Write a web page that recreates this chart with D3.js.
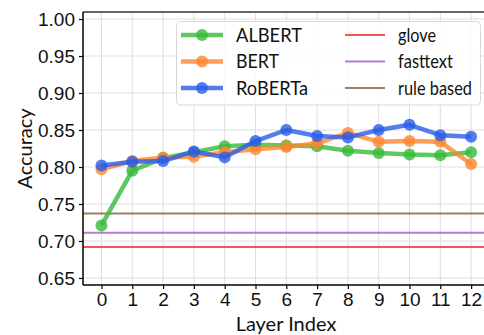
<!DOCTYPE html>
<html>
<head>
<meta charset="utf-8">
<script src="https://cdn.jsdelivr.net/npm/d3@7"></script>
<style>
  html, body { margin: 0; padding: 0; background: #fff; overflow: hidden; }
  svg { display: block; font-family: Lato, "Noto Sans", sans-serif; }
</style>
</head>
<body>
<div id="chart"></div>
<script>
// data
const layers = [0, 1, 2, 3, 4, 5, 6, 7, 8, 9, 10, 11, 12];
const albert = [0.721, 0.795, 0.812, 0.820, 0.828, 0.830, 0.829, 0.828, 0.822, 0.819, 0.817, 0.816, 0.820];
const bert = [0.797, 0.808, 0.813, 0.814, 0.820, 0.824, 0.827, 0.832, 0.846, 0.834, 0.835, 0.834, 0.804];
const roberta = [0.802, 0.807, 0.808, 0.821, 0.813, 0.835, 0.850, 0.842, 0.840, 0.850, 0.857, 0.843, 0.841];
const baselineNames = ['glove', 'fasttext', 'rule based'];
const baselineValues = [0.692, 0.711, 0.737];
const yTicks = [0.65, 0.70, 0.75, 0.80, 0.85, 0.90, 0.95, 1.00];

const seriesColors = { ALBERT: '#38ba38', BERT: '#ff8630', RoBERTa: '#2a5ce8' };
const baselineColors = { glove: '#ee3b3b', fasttext: '#a865c9', 'rule based': '#8a6a48' };

const series = [
  { name: 'ALBERT', values: albert },
  { name: 'BERT', values: bert },
  { name: 'RoBERTa', values: roberta },
];

const W = 484, H = 335;
const plotLeft = 83, plotTop = 12, plotBottom = 285;

const x = d3.scaleLinear().domain([-0.6, 12.6]).range([plotLeft, 489.6]);
const y = d3.scaleLinear().domain([0.6405, 1.0095]).range([plotBottom, plotTop]);

const svg = d3.select('#chart').append('svg')
  .attr('width', W).attr('height', H);

// Gridlines
svg.append('g')
  .selectAll('line')
  .data(layers)
  .join('line')
  .attr('x1', d => x(d)).attr('x2', d => x(d))
  .attr('y1', plotTop).attr('y2', plotBottom)
  .attr('stroke', '#dedede').attr('stroke-width', 1);

svg.append('g')
  .selectAll('line')
  .data(yTicks)
  .join('line')
  .attr('x1', plotLeft).attr('x2', W)
  .attr('y1', d => y(d)).attr('y2', d => y(d))
  .attr('stroke', '#dedede').attr('stroke-width', 1);

// Baselines
svg.append('g')
  .selectAll('line')
  .data(baselineNames.map((n, i) => ({ name: n, value: baselineValues[i] })))
  .join('line')
  .attr('x1', plotLeft).attr('x2', W)
  .attr('y1', d => y(d.value)).attr('y2', d => y(d.value))
  .attr('stroke', d => baselineColors[d.name])
  .attr('stroke-width', 2)
  .attr('opacity', 0.85);

// Model lines + markers
const line = d3.line().x((d, i) => x(layers[i])).y(d => y(d));

series.forEach(s => {
  const g = svg.append('g');
  g.append('path')
    .datum(s.values)
    .attr('d', line)
    .attr('fill', 'none')
    .attr('stroke', seriesColors[s.name])
    .attr('stroke-width', 4.5)
    .attr('stroke-linejoin', 'round')
    .attr('opacity', 0.8);
  g.selectAll('circle')
    .data(s.values)
    .join('circle')
    .attr('cx', (d, i) => x(layers[i]))
    .attr('cy', d => y(d))
    .attr('r', 6)
    .attr('fill', seriesColors[s.name])
    .attr('opacity', 0.8);
});

// Axes
const yAxis = svg.append('g')
  .attr('transform', `translate(${plotLeft},0)`)
  .call(d3.axisLeft(y).tickValues(yTicks).tickFormat(d3.format('.2f')).tickSize(4).tickPadding(4));
yAxis.select('.domain').remove();

const xAxis = svg.append('g')
  .attr('transform', `translate(0,${plotBottom})`)
  .call(d3.axisBottom(x).tickValues(layers).tickFormat(d3.format('d')).tickSize(4).tickPadding(4));
xAxis.select('.domain').remove();

[yAxis, xAxis].forEach(a => {
  a.selectAll('.tick line').attr('stroke', '#000').attr('stroke-width', 1.2);
  a.selectAll('text').attr('fill', '#111').style('font-size', '19px');
});

// Spines
svg.append('line').attr('x1', plotLeft).attr('x2', W).attr('y1', plotTop).attr('y2', plotTop)
  .attr('stroke', '#666').attr('stroke-width', 1.8);
svg.append('line').attr('x1', plotLeft).attr('x2', plotLeft).attr('y1', plotTop).attr('y2', plotBottom)
  .attr('stroke', '#000').attr('stroke-width', 1.5);
svg.append('line').attr('x1', plotLeft).attr('x2', W).attr('y1', plotBottom).attr('y2', plotBottom)
  .attr('stroke', '#000').attr('stroke-width', 1.5);

// Axis labels
svg.append('text')
  .attr('transform', `translate(32,${(plotTop + plotBottom) / 2}) rotate(-90)`)
  .attr('text-anchor', 'middle')
  .style('font-size', '20px').attr('fill', '#111')
  .text('Accuracy');

svg.append('text')
  .attr('x', 286).attr('y', 331)
  .attr('text-anchor', 'middle')
  .style('font-size', '20px').attr('fill', '#111')
  .text('Layer Index');

// Legend
const legend = svg.append('g');
legend.append('rect')
  .attr('x', 176.5).attr('y', 21.5).attr('width', 304).attr('height', 83.5)
  .attr('rx', 4)
  .attr('fill', 'rgba(255,255,255,0.85)')
  .attr('stroke', '#d8d8d8');

// label widths mimic the narrow LaTeX sans of the original
const seriesLabelWidth = [66, 43, 72];
const baselineLabelWidth = [38, 55, 74];
const rowY = [35, 61.5, 88];
series.forEach((s, i) => {
  legend.append('line')
    .attr('x1', 181).attr('x2', 223).attr('y1', rowY[i]).attr('y2', rowY[i])
    .attr('stroke', seriesColors[s.name]).attr('stroke-width', 4.5).attr('opacity', 0.8);
  legend.append('circle')
    .attr('cx', 202).attr('cy', rowY[i]).attr('r', 6)
    .attr('fill', seriesColors[s.name]).attr('opacity', 0.8);
  legend.append('text')
    .attr('x', 236).attr('y', rowY[i]).attr('dy', '0.35em')
    .attr('textLength', seriesLabelWidth[i]).attr('lengthAdjust', 'spacingAndGlyphs')
    .style('font-size', '19px').attr('fill', '#111')
    .text(s.name);
});
baselineNames.forEach((n, i) => {
  legend.append('line')
    .attr('x1', 345).attr('x2', 385).attr('y1', rowY[i]).attr('y2', rowY[i])
    .attr('stroke', baselineColors[n]).attr('stroke-width', 2).attr('opacity', 0.85);
  legend.append('text')
    .attr('x', 398).attr('y', rowY[i]).attr('dy', '0.35em')
    .attr('textLength', baselineLabelWidth[i]).attr('lengthAdjust', 'spacingAndGlyphs')
    .style('font-size', '19px').attr('fill', '#111')
    .text(n);
});
</script>
</body>
</html>
